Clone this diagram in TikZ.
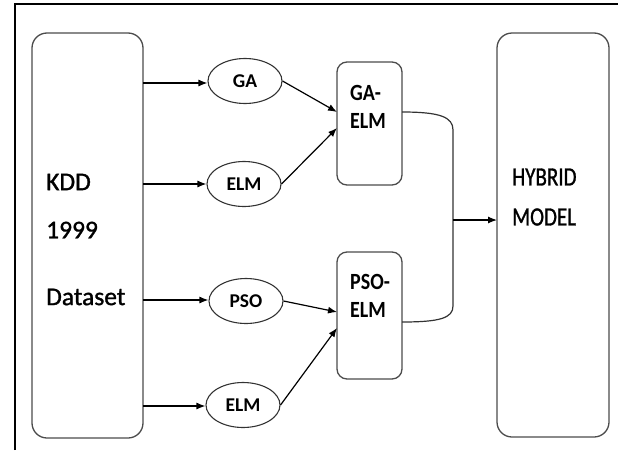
\documentclass[tikz,border=0pt]{standalone}
\usepackage{fontspec}
\usepackage{graphicx}
\setmainfont{Carlito}
\newfontfamily\heavyreg[FakeBold=1.2]{Carlito}
\usetikzlibrary{arrows.meta,shapes.geometric}
\tikzset{
  bigbox/.style={draw=black!70,line width=1.3pt,rounded corners=15pt},
  midbox/.style={draw=black!70,line width=1.3pt,rounded corners=10pt},
  oval/.style={draw=black!80,line width=1.1pt,ellipse,minimum width=74pt,minimum height=45pt,inner sep=0pt,font=\fontsize{19.5}{22}\selectfont\bfseries},
  lbl/.style={anchor=west,inner sep=0pt},
  arr/.style={line width=1.2pt,-{Latex[length=9pt,width=7pt]}},
  conn/.style={line width=1.2pt,draw=black!80}
}
\newcommand{\vst}[2][1.2]{\scalebox{1}[#1]{#2}}
\begin{document}
\begin{tikzpicture}[x=1pt,y=-1pt]
\useasboundingbox (0,0) rectangle (618,450);
% frame
\draw[line width=2.7pt] (15,450) -- (15,4) -- (618,4);
% big boxes
\draw[bigbox] (32,33) rectangle (143,438);
\draw[bigbox] (497,33) rectangle (609,437);
% KDD labels
\node[lbl] (t1) at (46,182) {\heavyreg\fontsize{25.5}{30}\selectfont KDD};
\node[lbl] (t2) at (46,230) {\heavyreg\fontsize{25.5}{30}\selectfont 1999};
\node[lbl] (t3) at (46,297) {\heavyreg\fontsize{25.5}{30}\selectfont Dataset};
% HYBRID labels
\node[lbl] (h1) at (512,177) {\vst[1.25]{\heavyreg\fontsize{21}{24}\selectfont HYBRID}};
\node[lbl] (h2) at (512,217) {\vst[1.25]{\heavyreg\fontsize{21}{24}\selectfont MODEL}};
% ellipses
\node[oval] (ga) at (245,81) {GA};
\node[oval] (elm1) at (244,184) {ELM};
\node[oval] (pso) at (246,301) {PSO};
\node[oval] (elm2) at (243,405) {ELM};
% mid boxes
\draw[midbox] (337,62) rectangle (402,185);
\draw[midbox] (337,252) rectangle (402,379);
\node[lbl] (b1) at (350,93) {\vst[1.16]{\fontsize{20}{23}\selectfont\bfseries GA-}};
\node[lbl] (b2) at (350,121) {\vst[1.16]{\fontsize{20}{23}\selectfont\bfseries ELM}};
\node[lbl] (b3) at (350,282) {\vst[1.16]{\fontsize{20}{23}\selectfont\bfseries PSO-}};
\node[lbl] (b4) at (350,310) {\vst[1.16]{\fontsize{20}{23}\selectfont\bfseries ELM}};
% coordinates
\coordinate (s1) at (143,83);
\coordinate (s2) at (143,184);
\coordinate (s3) at (143,300);
\coordinate (s4) at (143,406);
\coordinate (ga1) at (337,112);
\coordinate (ga2) at (337,128);
\coordinate (ps1) at (337,312);
\coordinate (ps2) at (337,328);
\coordinate (o1) at (402,112);
\coordinate (o2) at (402,322);
\coordinate (j) at (453,220);
\coordinate (hy) at (497,220);
% arrows
\draw[arr] (s1) -- (ga.west |- s1);
\draw[arr] (s2) -- (elm1.west |- s2);
\draw[arr] (s3) -- (pso.west |- s3);
\draw[arr] (s4) -- (elm2.west |- s4);
\draw[arr] (ga.east) -- (ga1);
\draw[arr] (elm1.east) -- (ga2);
\draw[arr] (pso.east) -- (ps1);
\draw[arr] (elm2.east) -- (ps2);
\draw[conn] (o1) .. controls (440,112) and (453,117) .. (453,130) -- (453,306) .. controls (453,318) and (440,322) .. (o2);
\draw[arr] (j) -- (hy);
\end{tikzpicture}
\end{document}
